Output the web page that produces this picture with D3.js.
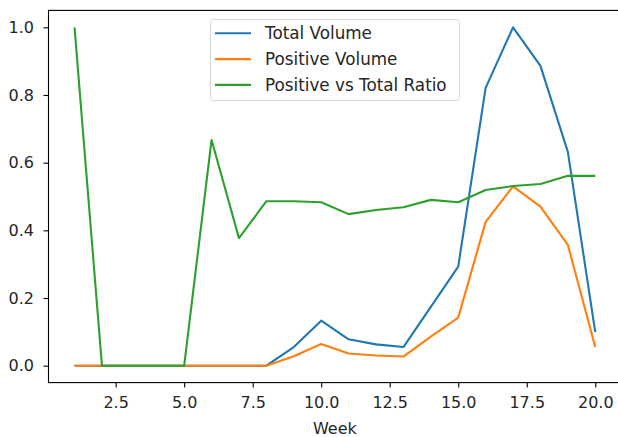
<!DOCTYPE html>
<html>
<head>
<meta charset="utf-8">
<script src="https://cdn.jsdelivr.net/npm/d3@7"></script>
<style>
  body { margin: 0; background: #fff; }
  text { font-family: "DejaVu Sans", sans-serif; }
</style>
</head>
<body>
<svg id="chart" width="618" height="437"></svg>
<script>
const weeks = [1, 2, 3, 4, 5, 6, 7, 8, 9, 10, 11, 12, 13, 14, 15, 16, 17, 18, 19, 20];
const totalVolume = [0, 0, 0, 0, 0, 0, 0, 0, 0.055, 0.133, 0.078, 0.063, 0.055, 0.174, 0.293, 0.821, 1.0, 0.886, 0.632, 0.099];
const positiveVolume = [0, 0, 0, 0, 0, 0, 0, 0, 0.028, 0.064, 0.036, 0.03, 0.027, 0.086, 0.142, 0.425, 0.53, 0.47, 0.357, 0.055];
const ratio = [1.0, 0, 0, 0, 0, 0.667, 0.377, 0.486, 0.486, 0.483, 0.448, 0.46, 0.468, 0.49, 0.483, 0.519, 0.531, 0.537, 0.561, 0.561];
const xTicks = [2.5, 5.0, 7.5, 10.0, 12.5, 15.0, 17.5, 20.0];
const yTicks = [0.0, 0.2, 0.4, 0.6, 0.8, 1.0];

const series = [
  { name: 'Total Volume', values: totalVolume, color: '#1f77b4' },
  { name: 'Positive Volume', values: positiveVolume, color: '#ff7f0e' },
  { name: 'Positive vs Total Ratio', values: ratio, color: '#2ca02c' }
];

const plotLeft = 48.5, plotRight = 621.3, plotTop = 10.4, plotBottom = 382.6;

const x = d3.scaleLinear().domain([0.05, 20.95]).range([plotLeft, plotRight]);
const y = d3.scaleLinear().domain([-0.05, 1.05]).range([plotBottom, plotTop]);

const svg = d3.select('#chart');

const line = d3.line()
  .x((d, i) => x(weeks[i]))
  .y(d => y(d));

svg.selectAll('.series')
  .data(series)
  .enter()
  .append('path')
  .attr('class', 'series')
  .attr('d', d => line(d.values))
  .attr('fill', 'none')
  .attr('stroke', d => d.color)
  .attr('stroke-width', 2.1)
  .attr('stroke-linejoin', 'round');

// axes
const xAxis = svg.append('g')
  .attr('transform', `translate(0, ${plotBottom})`)
  .call(d3.axisBottom(x).tickValues(xTicks).tickFormat(d3.format('.1f')).tickSize(5).tickPadding(9).tickSizeOuter(0));

const yAxis = svg.append('g')
  .attr('transform', `translate(${plotLeft}, 0)`)
  .call(d3.axisLeft(y).tickValues(yTicks).tickFormat(d3.format('.1f')).tickSize(5).tickPadding(9.5).tickSizeOuter(0));

[xAxis, yAxis].forEach(g => {
  g.select('.domain').remove();
  g.selectAll('line').attr('stroke', '#000').attr('stroke-width', 1.1);
  g.selectAll('text').attr('font-size', 16).attr('fill', '#262626')
    .style('font-family', '"DejaVu Sans", sans-serif');
});

// spines
svg.append('rect')
  .attr('x', plotLeft)
  .attr('y', plotTop)
  .attr('width', plotRight - plotLeft)
  .attr('height', plotBottom - plotTop)
  .attr('fill', 'none')
  .attr('stroke', '#000')
  .attr('stroke-width', 1.1);

svg.append('text')
  .attr('x', (plotLeft + plotRight) / 2)
  .attr('y', 434)
  .attr('text-anchor', 'middle')
  .attr('font-size', 16)
  .attr('fill', '#262626')
  .text('Week');

// legend
const legend = svg.append('g');
legend.append('rect')
  .attr('x', 210.5)
  .attr('y', 19.5)
  .attr('width', 249)
  .attr('height', 81)
  .attr('rx', 3)
  .attr('fill', '#fff')
  .attr('fill-opacity', 0.8)
  .attr('stroke', '#d5d5d5');

const items = legend.selectAll('.item')
  .data(series)
  .enter()
  .append('g')
  .attr('transform', (d, i) => `translate(0, ${33.3 + i * 25.8})`);

items.append('line')
  .attr('x1', 215)
  .attr('x2', 251)
  .attr('stroke', d => d.color)
  .attr('stroke-width', 2.1);

items.append('text')
  .attr('x', 265)
  .attr('dy', '0.35em')
  .attr('font-size', 16.8)
  .attr('fill', '#262626')
  .text(d => d.name);
</script>
</body>
</html>
